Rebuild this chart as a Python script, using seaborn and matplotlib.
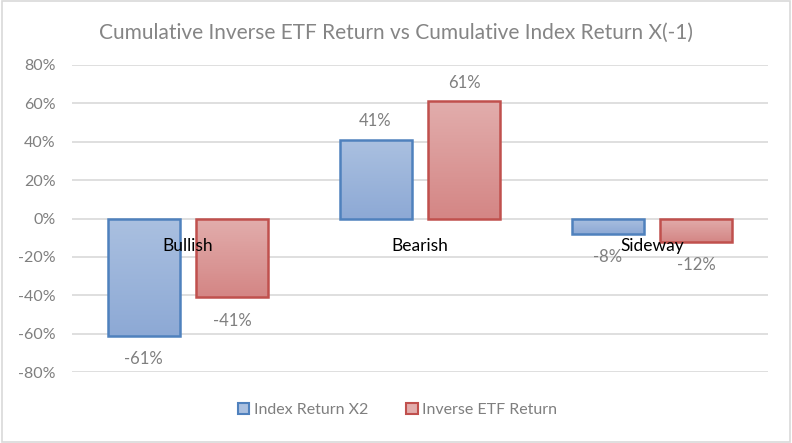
import matplotlib.pyplot as plt
import matplotlib.colors as mcolors
import seaborn as sns
import pandas as pd
import numpy as np

# Data
categories = ['Bullish', 'Bearish', 'Sideway']
index_return_x2 = [-0.61, 0.41, -0.08]
inverse_etf_return = [-0.41, 0.61, -0.12]
series_names = ['Index Return X2', 'Inverse ETF Return']
y_ticks = [-0.8, -0.6, -0.4, -0.2, 0.0, 0.2, 0.4, 0.6, 0.8]

ds = pd.DataFrame({
    'Scenario': categories * 2,
    'Return': index_return_x2 + inverse_etf_return,
    'Series': [series_names[0]] * 3 + [series_names[1]] * 3,
})

edge_colors = {series_names[0]: '#4f81bd', series_names[1]: '#c0504d'}
grad_colors = {series_names[0]: ('#aac0e0', '#8da9d5'),
               series_names[1]: ('#e2adac', '#d48685')}

sns.set_style('white')
plt.rcParams['font.family'] = ['Lato', 'DejaVu Sans']

fig = plt.figure(figsize=(7.92, 4.43), dpi=100)
ax = fig.add_axes([72 / 792, 1 - 372 / 443, 696 / 792, 307 / 443])

sns.barplot(data=ds, x='Scenario', y='Return', hue='Series', order=categories,
            hue_order=series_names, palette=edge_colors, width=0.766, gap=0.19,
            ax=ax, legend=False, zorder=3)

# Gradient fill clipped to each bar
for container, name in zip(ax.containers, series_names):
    cmap = mcolors.LinearSegmentedColormap.from_list('g', list(grad_colors[name]))
    for bar in container:
        x0, w = bar.get_x(), bar.get_width()
        y0, h = bar.get_y(), bar.get_height()
        bar.set_facecolor('none')
        bar.set_edgecolor(edge_colors[name])
        bar.set_linewidth(1.8)
        top, bottom = max(y0, y0 + h), min(y0, y0 + h)
        grad = np.linspace(0, 1, 100).reshape(-1, 1)
        im = ax.imshow(grad, cmap=cmap, aspect='auto', origin='upper',
                       extent=[x0, x0 + w, bottom, top], zorder=2.5)
        im.set_clip_path(bar)

# Value labels
for container in ax.containers:
    for bar in container:
        v = bar.get_height()
        xc = bar.get_x() + bar.get_width() / 2
        off = 13.5 if v >= 0 else -17
        ax.annotate(f'{v * 100:.0f}%', (xc, v), xytext=(0, off),
                    textcoords='offset points', ha='center', va='center',
                    fontsize=12, color='#7f7f7f', zorder=5)

# Category labels sit on the zero line
for i, cat in enumerate(categories):
    ax.annotate(cat, (i, 0), xytext=(0, -19.5), textcoords='offset points',
                ha='center', va='center', fontsize=12.5, color='#000000', zorder=5)

ax.set_xlim(-0.5, 2.5)
ax.set_ylim(-0.8, 0.8)
ax.set_yticks(y_ticks)
ax.set_yticklabels([f'{t * 100:.0f}%' for t in y_ticks], color='#7f7f7f', fontsize=11.5)
ax.set_xticks([])
ax.set_xlabel('')
ax.set_ylabel('')
ax.tick_params(axis='y', length=0, pad=12)
ax.yaxis.grid(True, color='#d9d9d9', linewidth=1.2, zorder=0)
ax.set_axisbelow(True)
sns.despine(ax=ax, left=True, bottom=True)

fig.suptitle('Cumulative Inverse ETF Return vs Cumulative Index Return X(-1)',
             x=0.5, y=1 - 33 / 443, va='center', fontsize=15, color='#858585')

# Legend
handles = [plt.Rectangle((0, 0), 1, 1, facecolor=grad_colors[n][0],
                         edgecolor=edge_colors[n], linewidth=1.5) for n in series_names]
fig.legend(handles, series_names, loc='center', bbox_to_anchor=(0.502, 1 - 410 / 443),
           ncol=2, frameon=False, fontsize=11.5, labelcolor='#7f7f7f',
           handlelength=0.7, handleheight=0.7, handletextpad=0.3, columnspacing=2.4)

# Outer frame like the chart area border
fig.patches.append(plt.Rectangle((0.002, 0.002), 0.996, 0.996, transform=fig.transFigure,
                                 fill=False, edgecolor='#d9d9d9', linewidth=1.2))

plt.savefig('out.png', dpi=100)
